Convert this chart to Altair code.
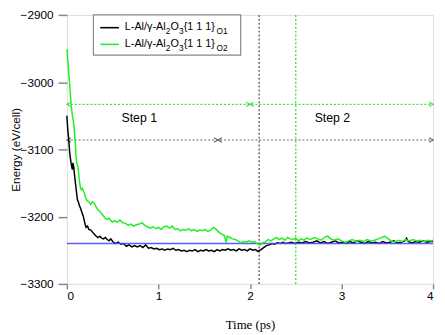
import altair as alt
import pandas as pd

# ---- data ----
t_o1 = [0.00, 0.01, 0.02, 0.03, 0.04, 0.05, 0.06, 0.065, 0.075, 0.085, 0.10, 0.115, 0.125, 0.135, 0.15,
        0.16, 0.17, 0.18, 0.19, 0.20, 0.21, 0.225, 0.24, 0.26, 0.28, 0.30, 0.32, 0.34, 0.36, 0.38,
        0.40, 0.42, 0.44, 0.46, 0.48, 0.50, 0.53, 0.56, 0.59, 0.62, 0.65, 0.68, 0.71, 0.74, 0.77,
        0.80, 0.83, 0.86, 0.89, 0.92, 0.95, 0.98, 1.01, 1.04, 1.07, 1.10, 1.13, 1.16, 1.19, 1.22,
        1.25, 1.28, 1.31, 1.34, 1.37, 1.40, 1.43, 1.46, 1.49, 1.52, 1.55, 1.58, 1.61, 1.64, 1.67,
        1.70, 1.73, 1.76, 1.79, 1.82, 1.85, 1.88, 1.91, 1.94, 1.97, 2.00, 2.03, 2.06, 2.09, 2.12,
        2.15, 2.18, 2.21, 2.24, 2.27, 2.30, 2.33, 2.36, 2.39, 2.42, 2.45, 2.49, 2.53, 2.57, 2.61,
        2.65, 2.69, 2.73, 2.77, 2.81, 2.85, 2.89, 2.93, 2.97, 3.01, 3.05, 3.09, 3.13, 3.17, 3.21,
        3.25, 3.29, 3.33, 3.37, 3.41, 3.45, 3.49, 3.53, 3.57, 3.61, 3.65, 3.69, 3.71, 3.73, 3.77,
        3.81, 3.85, 3.89, 3.93, 3.97, 4.00]
e_o1 = [-3050, -3072, -3085, -3104, -3115, -3124, -3130, -3120, -3126, -3140, -3158, -3175, -3178, -3183, -3188,
        -3192, -3196, -3200, -3206, -3212, -3216, -3214, -3219, -3220, -3223, -3226, -3229, -3231, -3229, -3232,
        -3233, -3231, -3234, -3236, -3233, -3237, -3240, -3238, -3241, -3240, -3244, -3242, -3245, -3243, -3245,
        -3243, -3246, -3242, -3247, -3246, -3248, -3247, -3249, -3248, -3250, -3248, -3249, -3247, -3250, -3249,
        -3251, -3250, -3252, -3250, -3251, -3249, -3252, -3250, -3251, -3249, -3251, -3250, -3252, -3249, -3251,
        -3249, -3250, -3248, -3250, -3249, -3251, -3248, -3250, -3249, -3251, -3248, -3250, -3249, -3252, -3249,
        -3246, -3243, -3242, -3240, -3241, -3239, -3240, -3238, -3240, -3239, -3238, -3240, -3238, -3239, -3237,
        -3239, -3238, -3236, -3239, -3237, -3240, -3238, -3236, -3239, -3238, -3240, -3237, -3239, -3236, -3238,
        -3240, -3237, -3239, -3238, -3240, -3237, -3239, -3238, -3236, -3239, -3238, -3236, -3232, -3237, -3239,
        -3237, -3238, -3236, -3238, -3237, -3237]

t_o2 = [0.00, 0.01, 0.02, 0.03, 0.04, 0.05, 0.06, 0.07, 0.08, 0.09, 0.10, 0.11, 0.12, 0.13, 0.14,
        0.15, 0.16, 0.17, 0.18, 0.19, 0.20, 0.21, 0.22, 0.24, 0.26, 0.28, 0.30, 0.32, 0.34, 0.36,
        0.38, 0.40, 0.42, 0.44, 0.46, 0.48, 0.50, 0.52, 0.55, 0.58, 0.61, 0.64, 0.67, 0.70, 0.73,
        0.76, 0.79, 0.82, 0.85, 0.88, 0.91, 0.94, 0.97, 1.00, 1.03, 1.06, 1.09, 1.12, 1.15, 1.18,
        1.21, 1.24, 1.27, 1.30, 1.33, 1.36, 1.39, 1.42, 1.45, 1.48, 1.51, 1.54, 1.57, 1.60, 1.63,
        1.66, 1.69, 1.72, 1.74, 1.75, 1.78, 1.81, 1.84, 1.87, 1.90, 1.93, 1.96, 1.99, 2.02, 2.05,
        2.08, 2.11, 2.14, 2.17, 2.20, 2.23, 2.26, 2.29, 2.32, 2.35, 2.38, 2.41, 2.44, 2.47, 2.50,
        2.53, 2.56, 2.59, 2.62, 2.66, 2.70, 2.74, 2.78, 2.82, 2.85, 2.88, 2.92, 2.96, 3.00, 3.04,
        3.08, 3.12, 3.16, 3.20, 3.24, 3.28, 3.32, 3.36, 3.40, 3.44, 3.47, 3.50, 3.54, 3.58, 3.62,
        3.66, 3.70, 3.74, 3.78, 3.82, 3.86, 3.90, 3.94, 3.98, 4.00]
e_o2 = [-2951, -2967, -2985, -3003, -3022, -3038, -3050, -3058, -3070, -3088, -3110, -3122, -3125, -3138, -3150,
        -3158, -3160, -3158, -3162, -3164, -3170, -3173, -3176, -3178, -3182, -3178, -3180, -3186, -3190, -3192,
        -3196, -3199, -3203, -3204, -3202, -3206, -3208, -3206, -3208, -3205, -3209, -3210, -3213, -3211, -3214,
        -3212, -3211, -3209, -3213, -3215, -3217, -3215, -3218, -3216, -3219, -3215, -3214, -3217, -3214, -3219,
        -3218, -3221, -3219, -3220, -3218, -3221, -3219, -3222, -3220, -3221, -3219, -3222, -3220, -3216, -3219,
        -3223, -3226, -3228, -3239, -3229, -3231, -3233, -3234, -3236, -3239, -3237, -3238, -3236, -3238, -3237,
        -3240, -3242, -3239, -3237, -3234, -3236, -3233, -3231, -3234, -3232, -3235, -3231, -3233, -3234, -3232,
        -3236, -3233, -3235, -3232, -3234, -3231, -3233, -3235, -3230, -3229, -3233, -3235, -3233, -3236, -3238,
        -3236, -3234, -3237, -3235, -3237, -3234, -3236, -3235, -3233, -3231, -3229, -3232, -3236, -3238, -3235,
        -3237, -3234, -3236, -3234, -3236, -3235, -3237, -3235, -3236, -3235]

ref_energy = [-3240]
step_rule_t = [2.1, 2.5]
step_rule_color = ["#555555", "#33dd33"]
arrow_level = [-3086, -3033]
arrow_split = [1.65, 2.0]
arrow_color = ["#666666", "#44dd44"]
step_labels = ["Step 1", "Step 2"]
step_label_t = [0.79, 2.9]
step_label_e = [-3053, -3053]
x_ticks = [0, 1, 2, 3, 4]
y_ticks = [-3300, -3200, -3100, -3000, -2900]
series_names = ["O1", "O2"]
series_colors = ["#000000", "#22ee22"]

W, H = 373, 274
xs = alt.Scale(domain=[0, 4], nice=False, zero=False)
ys = alt.Scale(domain=[-3300, -2900], nice=False, zero=False)

xaxis = alt.Axis(values=x_ticks, format="d", title="Time (ps)", titleFont="Liberation Serif",
                 titleFontSize=13, titleFontWeight="normal", titleY=41, titleBaseline="middle",
                 titleColor="black", labelFont="Liberation Sans", labelFontSize=12, labelColor="black",
                 tickSize=5, labelPadding=2, tickColor="#888888", tickWidth=1.5, domain=False, grid=False)
yaxis = alt.Axis(values=y_ticks, format="d", title="Energy (eV/cell)", titleFont="Liberation Sans",
                 titleFontSize=12, titleFontWeight="normal", titleAngle=-90, titleX=-57, titleY=H / 2,
                 titleBaseline="top", titleAlign="center", titleColor="black",
                 labelFont="Liberation Sans", labelFontSize=12, labelColor="black",
                 tickSize=9, labelPadding=5, tickColor="#888888", tickWidth=1.5, domain=False, grid=False)


def X(f):
    return alt.X(f, type="quantitative", scale=xs, axis=xaxis)


def Y(f):
    return alt.Y(f, type="quantitative", scale=ys, axis=yaxis)


df1 = pd.DataFrame({"t": t_o1, "e": e_o1})
df2 = pd.DataFrame({"t": t_o2, "e": e_o2})

vrules = pd.DataFrame({"t": step_rule_t, "c": step_rule_color})
hrules = pd.DataFrame({"t0": [0, 0], "t1": [4, 4], "e": arrow_level, "c": arrow_color})
blue = pd.DataFrame({"t0": [0], "t1": [4], "e": ref_energy})

R = "M-1,-0.55L0,0L-1,0.55"
L = "M1,-0.55L0,0L1,0.55"
heads = []
for lvl, sp, c in zip(arrow_level, arrow_split, arrow_color):
    heads += [(0, lvl, L, c), (sp, lvl, R, c), (sp, lvl, L, c), (4, lvl, R, c)]
heads = pd.DataFrame(heads, columns=["t", "e", "s", "c"])

labels = pd.DataFrame({"t": step_label_t, "e": step_label_e, "txt": step_labels})

vr = alt.Chart(vrules).mark_rule(strokeDash=[2, 2], strokeWidth=1.3).encode(
    x=X("t"), color=alt.Color("c:N", scale=None))
hr = alt.Chart(hrules).mark_rule(strokeDash=[2, 2], strokeWidth=1.1).encode(
    x=X("t0"), x2="t1", y=Y("e"), color=alt.Color("c:N", scale=None))
hd = alt.Chart(heads).mark_point(filled=False, size=64, strokeWidth=1.1, opacity=1).encode(
    x=X("t"), y=Y("e"), shape=alt.Shape("s:N", scale=None), color=alt.Color("c:N", scale=None))
txt = alt.Chart(labels).mark_text(font="Liberation Sans", fontSize=12.5, color="black").encode(
    x=X("t"), y=Y("e"), text="txt:N")
l1 = alt.Chart(df1).mark_line(color=series_colors[0], strokeWidth=1.5).encode(x=X("t"), y=Y("e"))
bl = alt.Chart(blue).mark_rule(color="#4a4aff", strokeWidth=1.6, opacity=0.9).encode(
    x=X("t0"), x2="t1", y=Y("e"))
l2 = alt.Chart(df2).mark_line(color=series_colors[1], strokeWidth=1.5).encode(x=X("t"), y=Y("e"))

# ---- legend (drawn manually for subscripts) ----
box = alt.Chart(pd.DataFrame({"a": [0]})).mark_rect(fill="white", stroke="#888888", strokeWidth=1.2).encode(
    x=alt.value(27), x2=alt.value(177), y=alt.value(0), y2=alt.value(41))
sw = pd.DataFrame({"x0": [34, 34], "x1": [53, 53], "y": [13, 30], "c": series_colors})
swatch = alt.Chart(sw).mark_rule(strokeWidth=1.6).encode(
    x=alt.X("x0:Q", scale=None, axis=None), x2="x1:Q",
    y=alt.Y("y:Q", scale=None, axis=None), color=alt.Color("c:N", scale=None))

pieces = []
x0 = 59
for name, yy in zip(series_names, [12.5, 30]):
    pieces += [("L-Al/γ-Al", x0, yy, 11),
               ("2", x0 + 41.8, yy + 4, 8.5),
               ("O", x0 + 46.6, yy, 11),
               ("3", x0 + 55.3, yy + 4, 8.5),
               ("{1 1 1}", x0 + 60, yy, 11),
               (name, x0 + 93.5, yy + 4, 8.5)]
pieces = pd.DataFrame(pieces, columns=["s", "px", "py", "fs"])
legtxt = alt.Chart(pieces).mark_text(font="Liberation Sans", align="left", baseline="middle",
                                     color="black").encode(
    x=alt.X("px:Q", scale=None, axis=None), y=alt.Y("py:Q", scale=None, axis=None),
    size=alt.Size("fs:Q", scale=None), text="s:N")

chart = alt.layer(vr, hr, hd, txt, l1, bl, l2, box, swatch, legtxt).properties(
    width=W, height=H, autosize="none",
    padding={"left": 60, "top": 4, "right": 4, "bottom": 49},
).configure_view(stroke="#999999", strokeWidth=2).configure(background="white")

chart.save("out.html", embed_options={"renderer": "svg", "actions": False})
